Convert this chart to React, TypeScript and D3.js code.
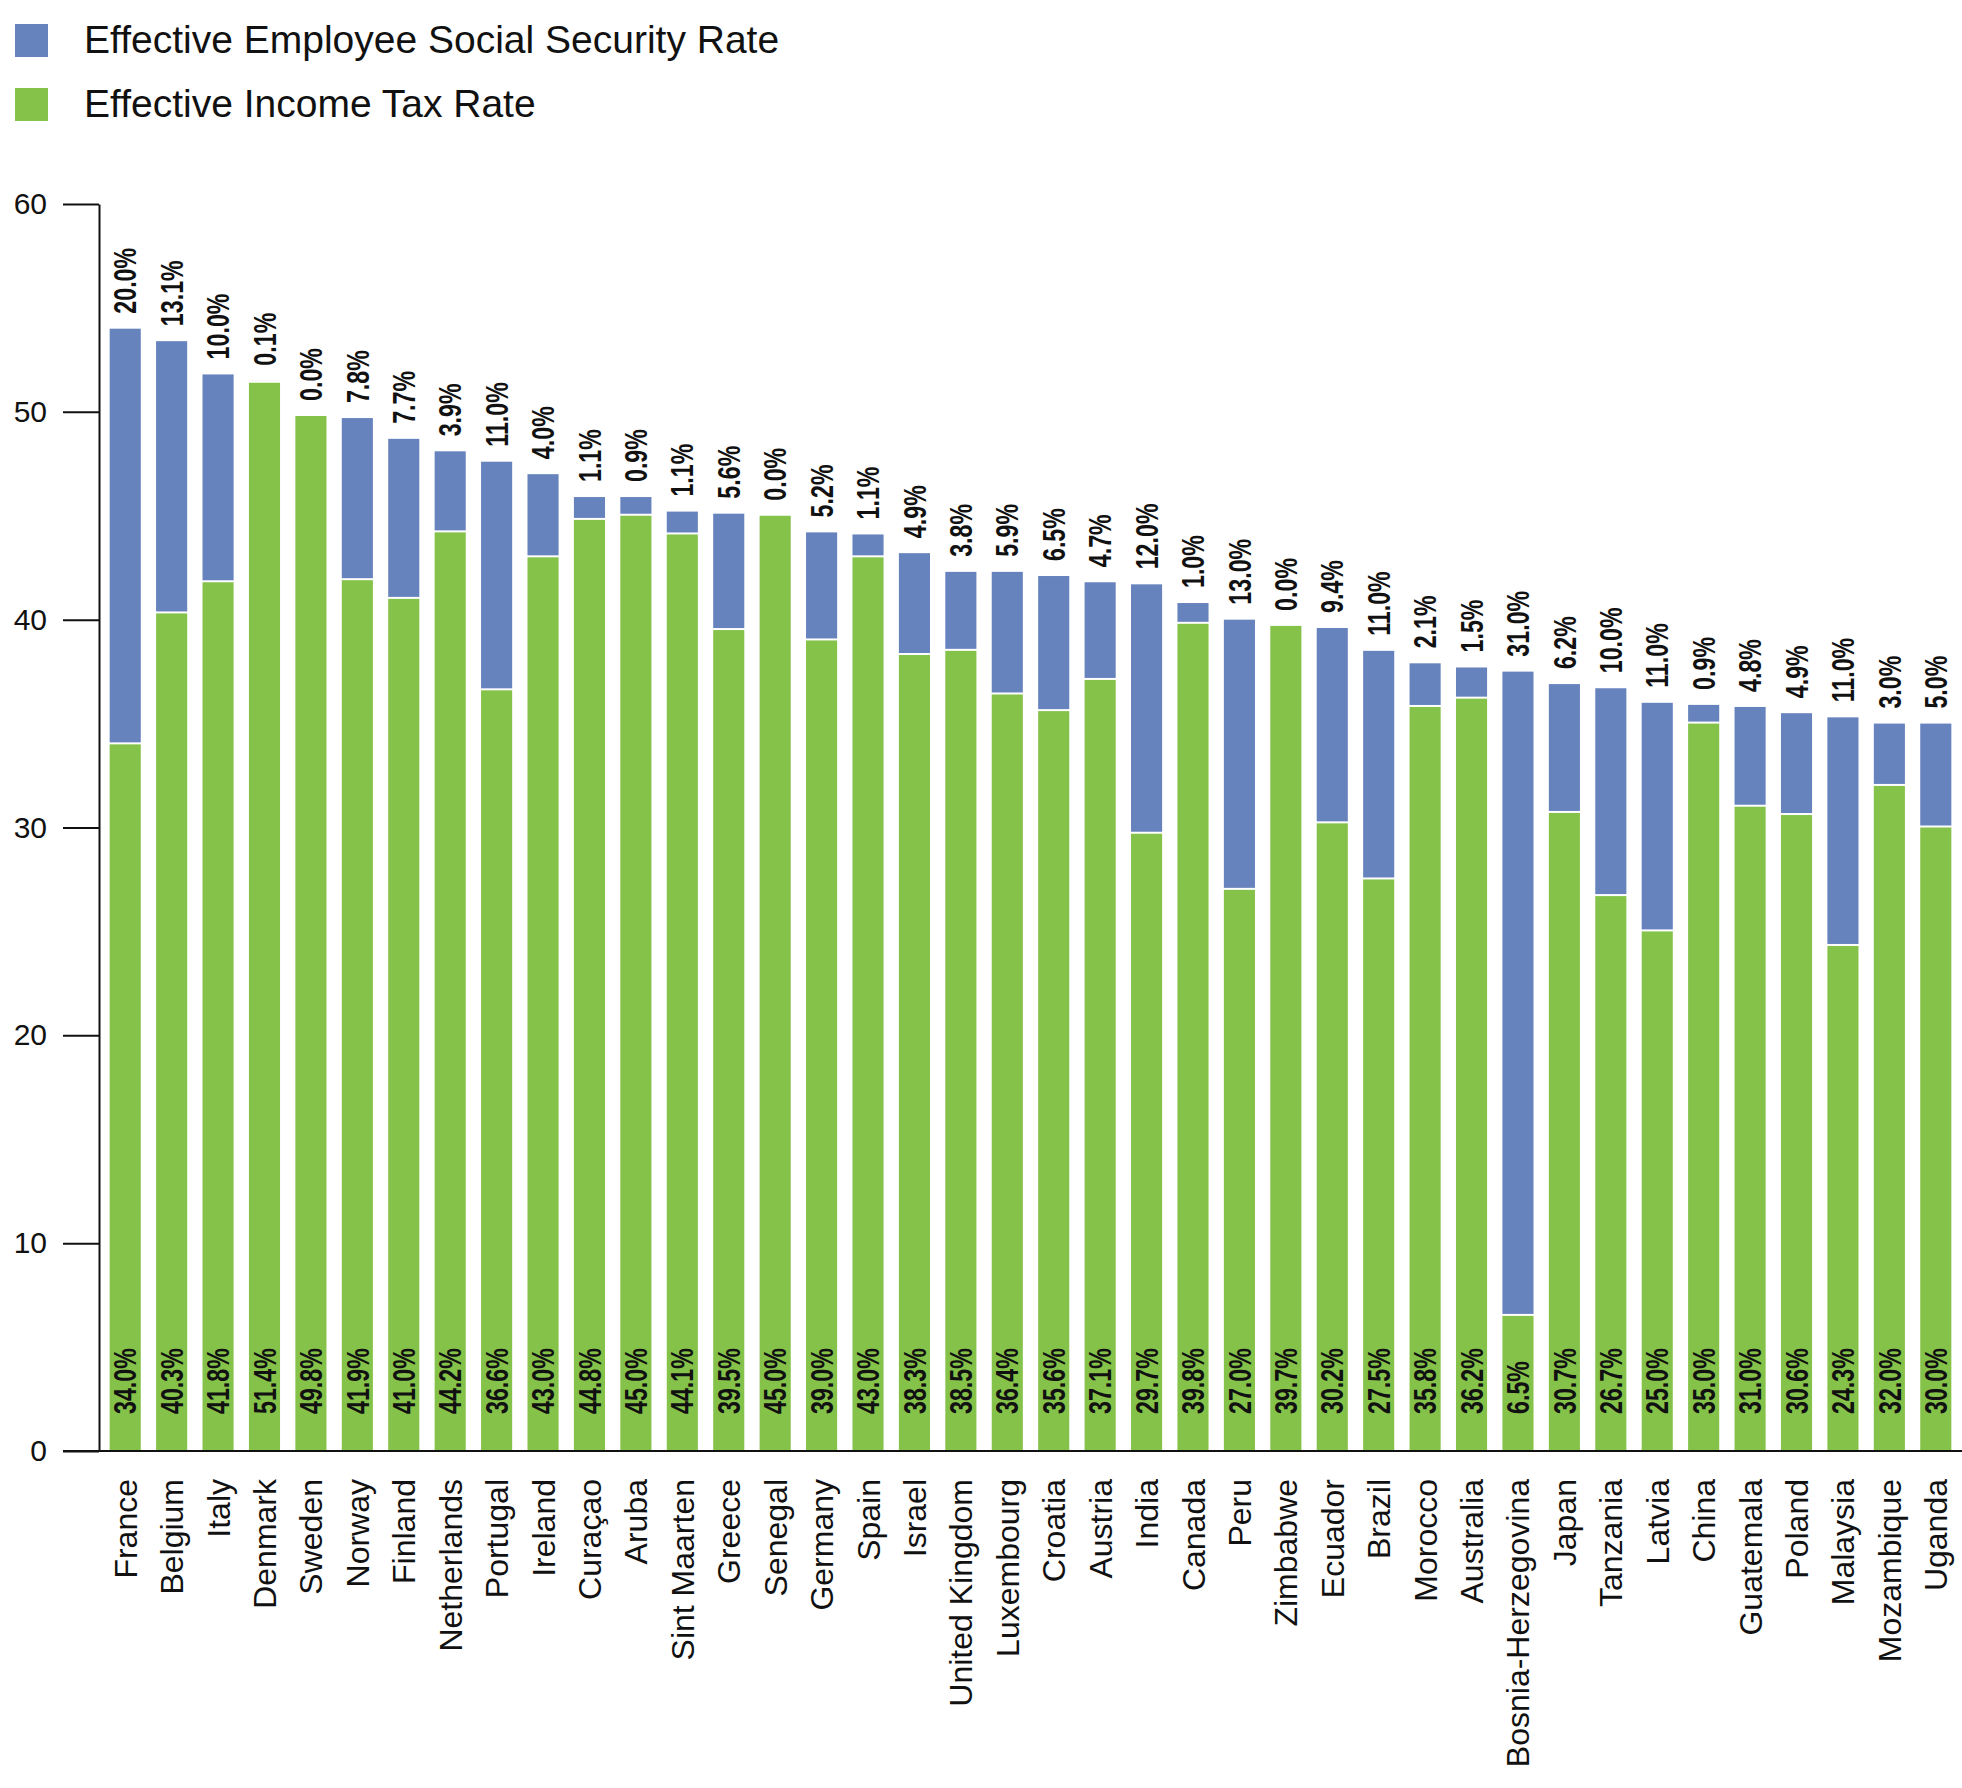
import React, { useEffect, useRef } from 'react';
import * as d3 from 'd3';

const countries = [
  'France', 'Belgium', 'Italy', 'Denmark', 'Sweden', 'Norway', 'Finland', 'Netherlands',
  'Portugal', 'Ireland', 'Curaçao', 'Aruba', 'Sint Maarten', 'Greece', 'Senegal', 'Germany',
  'Spain', 'Israel', 'United Kingdom', 'Luxembourg', 'Croatia', 'Austria', 'India', 'Canada',
  'Peru', 'Zimbabwe', 'Ecuador', 'Brazil', 'Morocco', 'Australia', 'Bosnia-Herzegovina',
  'Japan', 'Tanzania', 'Latvia', 'China', 'Guatemala', 'Poland', 'Malaysia', 'Mozambique',
  'Uganda',
];

const incomeTax = [
  34.0, 40.3, 41.8, 51.4, 49.8, 41.9, 41.0, 44.2, 36.6, 43.0, 44.8, 45.0, 44.1, 39.5, 45.0,
  39.0, 43.0, 38.3, 38.5, 36.4, 35.6, 37.1, 29.7, 39.8, 27.0, 39.7, 30.2, 27.5, 35.8, 36.2,
  6.5, 30.7, 26.7, 25.0, 35.0, 31.0, 30.6, 24.3, 32.0, 30.0,
];

const socialSecurity = [
  20.0, 13.1, 10.0, 0.1, 0.0, 7.8, 7.7, 3.9, 11.0, 4.0, 1.1, 0.9, 1.1, 5.6, 0.0,
  5.2, 1.1, 4.9, 3.8, 5.9, 6.5, 4.7, 12.0, 1.0, 13.0, 0.0, 9.4, 11.0, 2.1, 1.5,
  31.0, 6.2, 10.0, 11.0, 0.9, 4.8, 4.9, 11.0, 3.0, 5.0,
];

const yTicks = [0, 10, 20, 30, 40, 50, 60];

const legendItems = [
  { label: 'Effective Employee Social Security Rate', color: '#6783be' },
  { label: 'Effective Income Tax Rate', color: '#85c24a' },
];

export default function App() {
  const svgRef = useRef<SVGSVGElement>(null);

  useEffect(() => {
    if (!svgRef.current) return;
    const svg = d3.select(svgRef.current);
    svg.selectAll('*').remove();

    const W = 1962;
    const H = 1788;
    const axisX = 99;
    const y0 = 1451;
    const yTop = 204;
    const regular = "'Liberation Sans', Arial, sans-serif";
    // narrow look: Liberation Sans squeezed along the text direction
    const squeeze = 'scale(0.75,1)';

    svg.attr('width', W).attr('height', H);

    const data = countries.map((c, i) => ({
      country: c,
      tax: incomeTax[i],
      ss: socialSecurity[i],
    }));

    const x = d3
      .scaleBand<string>()
      .domain(countries)
      .range([102, 1959])
      .paddingInner(0.33)
      .paddingOuter(0.165);

    const y = d3.scaleLinear().domain([0, 60]).range([y0, yTop]);

    // Legend
    const legend = svg
      .append('g')
      .selectAll('g')
      .data(legendItems)
      .enter()
      .append('g')
      .attr('transform', (_, i) => `translate(0,${i * 64})`);

    legend
      .append('rect')
      .attr('x', 15)
      .attr('y', 24)
      .attr('width', 33)
      .attr('height', 33)
      .attr('fill', d => d.color);

    legend
      .append('text')
      .attr('x', 84)
      .attr('y', 53)
      .style('font-family', regular)
      .style('font-size', '39px')
      .attr('fill', '#111')
      .text(d => d.label);

    // Bars
    const bars = svg.append('g');

    bars
      .selectAll('.tax')
      .data(data)
      .enter()
      .append('rect')
      .attr('class', 'tax')
      .attr('x', d => x(d.country)!)
      .attr('width', x.bandwidth())
      .attr('y', d => y(d.tax))
      .attr('height', d => y(0) - y(d.tax))
      .attr('fill', '#85c24a');

    bars
      .selectAll('.ss')
      .data(data.filter(d => d.ss > 0))
      .enter()
      .append('rect')
      .attr('class', 'ss')
      .attr('x', d => x(d.country)!)
      .attr('width', x.bandwidth())
      .attr('y', d => y(d.tax + d.ss))
      .attr('height', d => y(d.tax) - y(d.tax + d.ss) - 2)
      .attr('fill', '#6783be');

    // Top labels (social security)
    svg
      .append('g')
      .selectAll('text')
      .data(data)
      .enter()
      .append('text')
      .attr('transform', d => {
        const cx = x(d.country)! + x.bandwidth() / 2;
        return `translate(${cx},${y(d.tax + d.ss) - 15}) rotate(-90) ${squeeze}`;
      })
      .attr('dy', '0.36em')
      .style('font-family', regular)
      .style('font-weight', 'bold')
      .style('font-size', '31px')
      .attr('fill', '#111')
      .text(d => `${d.ss.toFixed(1)}%`);

    // Bottom labels (income tax)
    svg
      .append('g')
      .selectAll('text')
      .data(data)
      .enter()
      .append('text')
      .attr('transform', d => {
        const cx = x(d.country)! + x.bandwidth() / 2;
        return `translate(${cx},${y0 - 37}) rotate(-90) ${squeeze}`;
      })
      .attr('dy', '0.36em')
      .style('font-family', regular)
      .style('font-weight', 'bold')
      .style('font-size', '31px')
      .attr('fill', '#111')
      .text(d => `${d.tax.toFixed(1)}%`);

    // Y axis
    const yAxis = svg
      .append('g')
      .attr('transform', `translate(${axisX},0)`)
      .call(
        d3
          .axisLeft(y)
          .tickValues(yTicks)
          .tickSize(36)
          .tickSizeOuter(0)
          .tickPadding(16)
      );
    yAxis.select('.domain').attr('stroke', '#111').attr('stroke-width', 2);
    yAxis.selectAll('.tick line').attr('stroke', '#111').attr('stroke-width', 2);
    yAxis
      .selectAll('.tick text')
      .style('font-family', regular)
      .style('font-size', '30px')
      .attr('fill', '#111');

    // X axis line
    svg
      .append('line')
      .attr('x1', axisX - 36)
      .attr('x2', W)
      .attr('y1', y0)
      .attr('y2', y0)
      .attr('stroke', '#111')
      .attr('stroke-width', 2);

    // Country labels
    svg
      .append('g')
      .selectAll('text')
      .data(countries)
      .enter()
      .append('text')
      .attr('transform', d => {
        const cx = x(d)! + x.bandwidth() / 2;
        return `translate(${cx},${y0 + 28}) rotate(-90)`;
      })
      .attr('dy', '0.36em')
      .attr('text-anchor', 'end')
      .style('font-family', regular)
      .style('font-size', '32px')
      .attr('fill', '#111')
      .text(d => d);
  }, []);

  return (
    <svg
      ref={svgRef}
      style={{ position: 'absolute', left: 0, top: 0, display: 'block', background: '#fff' }}
    />
  );
}
